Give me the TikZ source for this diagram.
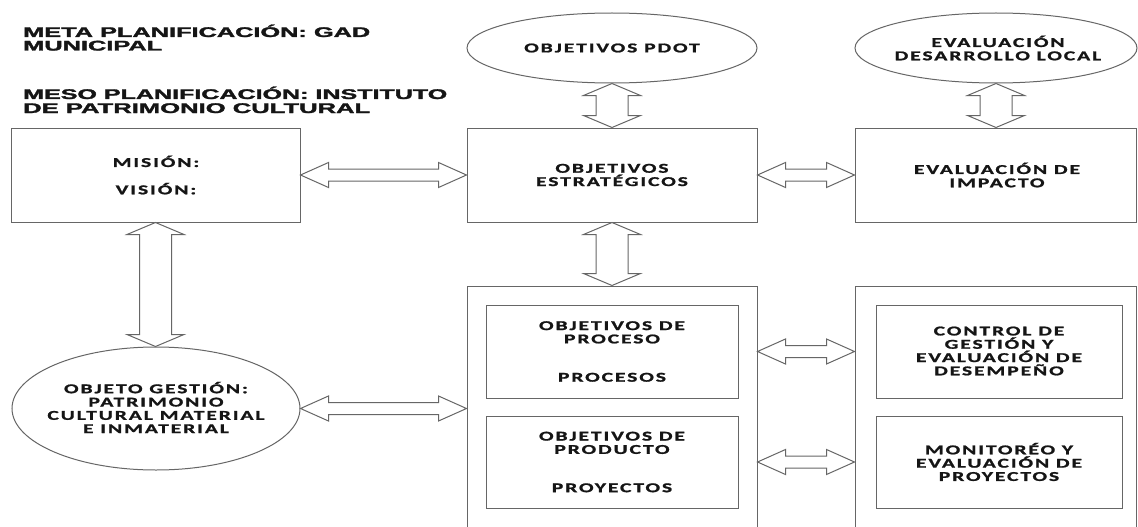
\documentclass[tikz,border=0pt]{standalone}
\usepackage{fontspec}
\usetikzlibrary{shapes.geometric,calc}
\setmainfont{Carlito}[FakeStretch=1.6,LetterSpace=14,BoldFeatures={FakeBold=1.3}]
\newfontfamily\headfont{Liberation Sans}[BoldFeatures={FakeBold=1.6}]
\definecolor{linegray}{HTML}{666666}
\definecolor{inkblack}{HTML}{151515}

\tikzset{
  box/.style={draw=linegray, line width=1pt, rectangle, inner sep=0pt},
  oval/.style={draw=linegray, line width=1pt, ellipse, inner sep=0pt},
  lbl/.style={text=inkblack, font=\fontsize{13.5}{13.3}\selectfont\bfseries,
              align=center, inner sep=0pt},
  headline/.style={text=inkblack, anchor=base west, inner sep=0pt,
              font=\headfont\bfseries\fontsize{14}{14}\selectfont},
  dblarrow/.style={draw=linegray, line width=1pt, fill=white, line join=miter},
}

% horizontal double-headed block arrow from #1 (left) to #2 (right)
\newcommand\hdarrow[2]{%
  \draw[dblarrow] let \p1=(#1), \p2=(#2) in
    (\x1,\y1) -- (\x1+28pt,\y1+12.5pt) -- (\x1+28pt,\y1+6pt)
    -- (\x2-28pt,\y1+6pt) -- (\x2-28pt,\y1+12.5pt) -- (\x2,\y1)
    -- (\x2-28pt,\y1-12.5pt) -- (\x2-28pt,\y1-6pt)
    -- (\x1+28pt,\y1-6pt) -- (\x1+28pt,\y1-12.5pt) -- cycle;}

% vertical double-headed block arrow from #1 (top) to #2 (bottom)
\newcommand\vdarrow[2]{%
  \draw[dblarrow] let \p1=(#1), \p2=(#2) in
    (\x1,\y1) -- (\x1+28.5pt,\y1-12pt) -- (\x1+16pt,\y1-12pt)
    -- (\x1+16pt,\y2+12pt) -- (\x1+28.5pt,\y2+12pt) -- (\x1,\y2)
    -- (\x1-28.5pt,\y2+12pt) -- (\x1-16pt,\y2+12pt)
    -- (\x1-16pt,\y1-12pt) -- (\x1-28.5pt,\y1-12pt) -- cycle;}

\begin{document}
\begin{tikzpicture}[x=1pt,y=-1pt]
\useasboundingbox (0,0) rectangle (1138,527);
\clip (0,0) rectangle (1138,527);
\fill[white] (0,0) rectangle (1138,527);

% headings
\node[headline] (meta1) at (23,37)   {\resizebox{347pt}{\height}{META PLANIFICACIÓN: GAD}};
\node[headline] (meta2) at (23,50.5) {\resizebox{139pt}{\height}{MUNICIPAL}};
\node[headline] (meso1) at (23,99)   {\resizebox{424pt}{\height}{MESO PLANIFICACIÓN: INSTITUTO}};
\node[headline] (meso2) at (23,113)  {\resizebox{347pt}{\height}{DE PATRIMONIO CULTURAL}};

% upper row
\node[box, minimum width=289, minimum height=94] (mision) at (155.5,175) {};
\node[lbl] (misiontxt) at (156,175) {MISIÓN:\\[14pt]VISIÓN:};

\node[box, minimum width=290, minimum height=94] (objest) at (612,175) {};
\node[lbl] (objesttxt) at (612,175) {OBJETIVOS\\ESTRATÉGICOS};

\node[box, minimum width=281, minimum height=94] (evalimp) at (995.5,175) {};
\node[lbl] (evalimptxt) at (997,175) {EVALUACIÓN DE\\IMPACTO};

% ellipses
\node[oval, minimum width=290, minimum height=70] (pdot) at (612,48) {};
\node[lbl] (pdottxt) at (612,48) {OBJETIVOS PDOT};

\node[oval, minimum width=282, minimum height=70] (evald) at (996,48) {};
\node[lbl] (evaldtxt) at (998,48) {EVALUACIÓN\\DESARROLLO LOCAL};

\node[oval, minimum width=288, minimum height=123] (og) at (156,408.5) {};
\node[lbl] (ogtxt) at (156,407.5) {OBJETO GESTIÓN:\\PATRIMONIO\\CULTURAL MATERIAL\\E INMATERIAL};

% lower containers
\node[box, minimum width=290, minimum height=260] (outerL) at (612,416) {};
\node[box, minimum width=281, minimum height=260] (outerR) at (995.5,416) {};

\node[box, minimum width=252, minimum height=93] (in1) at (612,351.5) {};
\node[lbl] (in1txt) at (612,351.5) {OBJETIVOS DE\\PROCESO\\[25pt]PROCESOS};
\node[box, minimum width=252, minimum height=92] (in2) at (612,462) {};
\node[lbl] (in2txt) at (612,462) {OBJETIVOS DE\\PRODUCTO\\[25pt]PROYECTOS};

\node[box, minimum width=246, minimum height=93] (ctl1) at (999,351.5) {};
\node[lbl] (ctl1txt) at (999,351) {CONTROL DE\\GESTIÓN Y\\EVALUACIÓN DE\\DESEMPEÑO};
\node[box, minimum width=246, minimum height=92] (ctl2) at (999,462) {};
\node[lbl] (ctl2txt) at (999,462) {MONITORÉO Y\\EVALUACIÓN DE\\PROYECTOS};

% connectors
\hdarrow{mision.east}{objest.west}
\hdarrow{objest.east}{evalimp.west}
\hdarrow{og.east}{outerL.west |- og.east}
\hdarrow{outerL.east |- in1.center}{outerR.west |- in1.center}
\hdarrow{outerL.east |- in2.center}{outerR.west |- in2.center}

\vdarrow{pdot.south}{objest.north}
\vdarrow{evald.south}{evalimp.north}
\vdarrow{objest.south}{outerL.north}
\vdarrow{mision.south}{og.north}
\end{tikzpicture}
\end{document}
